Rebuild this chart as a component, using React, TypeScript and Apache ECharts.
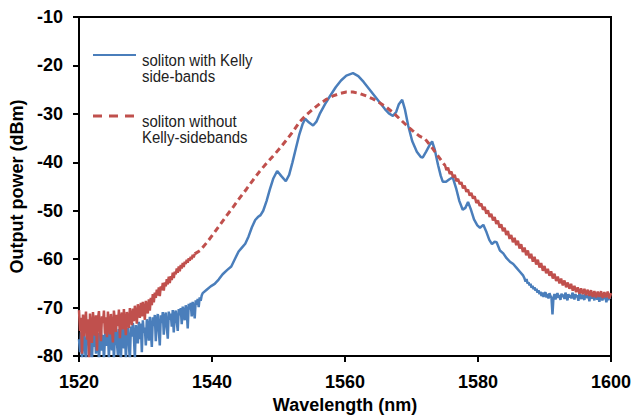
import React, { useEffect, useRef } from "react";
import * as echarts from "echarts";

// ---------- data ----------
const xTicks = { min: 1520, max: 1600, interval: 20 };
const yTicks = { min: -80, max: -10, interval: 10 };

const NOISE_STEP = 0.15;

// blue: soliton with Kelly side-bands
const blueLeftStart = 1520;
const blueLeftNoise = [
  -76.5, -79.2, -75.1, -81, -77.3, -74.8, -78.6, -81, -75.9, -77.8, -74.6, -80.2, -76.4, -81, -75.3, -78.1, -74.9, -79.5, -76.8, -75.2, -81, -77.1, -74.7, -78.9, -75.6, -81, -76.2,
  -74.3, -77.9, -75.0, -80.6, -73.8, -76.7, -78.8, -74.1, -81, -75.5, -73.9, -77.2, -79.8, -74.4, -76.3, -81, -74.0, -75.8, -78.4, -73.6, -80.9, -75.1, -74.2, -77.6, -81, -73.9, -76.0,
  -73.2, -75.9, -80.5, -73.6, -74.8, -77.4, -72.9, -76.5, -73.3, -79.2, -72.6, -75.2, -74.1, -77.8, -72.4, -73.9, -76.8, -71.9, -74.6, -78.1,
  -72.0, -73.8, -71.5, -76.9, -72.8, -71.3, -74.7, -77.8, -71.6, -73.2, -70.9, -75.6, -72.1, -71.0, -74.0, -76.4, -70.8, -72.5, -71.2, -73.9, -70.5, -75.1, -71.4, -70.6, -72.9, -74.8, -70.3,
  -71.6, -70.1, -73.4, -69.8, -71.0, -72.6, -69.5, -70.7, -74.3, -69.2, -70.4, -69.0, -71.8, -68.8, -70.0, -72.2, -68.5, -69.4, -68.2, -69.9, -67.9, -68.6, -67.5,
];
const blueSmooth: [number, number][] = [
  [1538.6, -67.0], [1539.2, -66.3], [1539.8, -65.6], [1540.4, -65.1], [1541.0, -64.2], [1541.6, -63.1],
  [1542.3, -62.2], [1542.9, -61.5], [1543.5, -59.8], [1544.0, -58.4], [1544.5, -57.6], [1545.0, -56.8],
  [1545.5, -55.3], [1546.0, -53.4], [1546.5, -51.9], [1546.9, -51.3], [1547.3, -50.9], [1547.7, -50.0],
  [1548.2, -48.0], [1548.7, -45.6], [1549.2, -43.4], [1549.8, -41.8], [1550.4, -42.8], [1551.1, -43.9],
  [1551.6, -42.6], [1552.1, -40.0], [1552.6, -37.2], [1553.1, -34.4], [1553.6, -32.2], [1554.0, -31.0],
  [1554.6, -31.8], [1555.2, -32.4], [1555.7, -31.6], [1556.2, -30.0], [1557.0, -28.0], [1557.8, -26.2],
  [1558.6, -24.5], [1559.4, -23.1], [1560.2, -22.1], [1561.2, -21.6], [1562.0, -22.2], [1562.8, -23.4],
  [1563.6, -24.8], [1564.4, -26.2], [1565.2, -27.6], [1566.0, -29.0], [1566.6, -29.9], [1567.2, -30.4],
  [1567.7, -29.6], [1568.1, -28.0], [1568.6, -27.1], [1569.0, -29.0], [1569.5, -32.4], [1570.1, -35.6],
  [1570.8, -37.8], [1571.4, -38.9], [1571.7, -39.0], [1572.2, -37.8], [1572.7, -36.5], [1573.1, -35.7],
  [1573.5, -37.4], [1574.0, -40.6], [1574.4, -42.8], [1574.7, -44.0], [1575.2, -44.0], [1575.7, -43.5],
  [1576.2, -43.1], [1576.7, -45.3], [1577.2, -48.0], [1577.7, -49.8], [1578.1, -49.4], [1578.5, -48.2],
  [1578.9, -49.6], [1579.4, -51.8], [1579.9, -53.0], [1580.3, -53.5], [1580.8, -52.9], [1581.3, -54.5],
  [1581.7, -56.0], [1582.1, -56.9], [1582.5, -56.4], [1582.8, -56.5], [1583.3, -58.2], [1583.8, -58.8],
  [1584.3, -59.8], [1584.8, -60.5], [1585.3, -61.0], [1585.8, -61.8], [1586.3, -62.6], [1586.8, -63.4],
];
const blueRightStart = 1587.0;
const blueRightNoise = [
  -64.0, -64.6, -64.1, -65.0, -64.8, -65.4, -65.1, -65.9, -65.5, -66.2, -65.8, -66.5, -66.1, -66.9,
  -66.4, -67.2, -66.7, -67.6, -66.9, -67.8, -67.1, -66.8, -67.9, -67.2, -68.1, -67.0, -67.6, -68.0, -71.4,
  -67.9, -67.2, -68.3, -67.5, -67.0, -68.0, -67.4, -68.4, -67.1, -67.8, -67.3, -68.2, -66.9, -67.7, -68.5,
  -67.2, -67.9, -67.4, -68.1, -66.9, -67.6, -68.3, -67.2, -67.8, -67.5, -68.6, -67.0, -67.7, -68.2, -67.3,
  -67.9, -68.4, -67.1, -67.6, -68.0, -67.4, -68.7, -67.2, -67.8, -68.1, -67.5, -68.5, -67.3, -67.9, -68.3,
  -67.6, -68.8, -67.4, -68.0, -68.5, -67.7, -68.2, -67.6, -68.9, -67.8, -68.4, -67.9, -68.2,
];

// red: soliton without Kelly-sidebands
const redLeftStart = 1520;
const redLeftNoise = [
  -70.5, -74.8, -72.1, -79.5, -71.4, -75.9, -73.0, -70.8, -76.6, -72.4, -80.5, -71.2, -74.1, -77.3, -70.9, -73.5, -75.8, -71.6, -78.9, -72.3, -70.7, -74.6, -76.9, -71.8, -73.2, -70.6, -75.4,
  -72.0, -76.1, -70.8, -73.7, -75.5, -71.3, -74.0, -77.2, -70.6, -72.9, -75.0, -71.5, -73.8, -70.4, -76.3, -72.2, -71.0, -74.5, -70.3, -73.1, -75.7, -70.9, -72.6, -74.2, -70.1, -71.9, -73.6,
  -70.2, -72.8, -69.6, -71.4, -73.3, -69.3, -70.7, -72.1, -69.0, -71.8, -68.8, -70.3, -72.5, -68.6, -69.9, -71.2, -68.3, -70.6, -68.0, -69.5,
  -67.2, -68.9, -66.9, -68.0, -66.3, -67.5, -65.8, -67.6, -65.6, -66.4, -64.9, -66.5, -64.8, -65.6, -64.1, -65.2, -63.6, -64.9, -63.5, -64.3, -62.8, -63.9, -62.6, -63.1, -61.9, -62.8,
  -61.5, -62.5, -61.2, -61.9, -60.8, -61.6, -60.5, -61.0, -60.1, -60.7, -59.8, -60.3, -59.5, -60.0, -59.1, -59.6, -58.9,
];
const redSmooth: [number, number][] = [
  [1537.4, -58.9], [1538.2, -58.2], [1539.2, -56.6], [1540.2, -54.8], [1541.2, -52.9], [1542.2, -51.0], [1543.2, -49.2],
  [1544.2, -47.3], [1545.2, -45.5], [1546.2, -43.6], [1547.2, -41.8], [1548.2, -40.2], [1549.2, -38.7],
  [1550.2, -37.1], [1551.2, -35.4], [1552.2, -33.6], [1553.2, -31.6], [1554.2, -30.2], [1555.2, -29.0],
  [1556.2, -27.9], [1557.2, -27.0], [1558.2, -26.3], [1559.2, -25.8], [1560.2, -25.5], [1561.2, -25.5],
  [1562.2, -25.8], [1563.2, -26.3], [1564.2, -26.9], [1565.2, -27.7], [1566.2, -28.6], [1567.2, -29.7],
  [1568.2, -31.0], [1569.2, -32.3], [1570.2, -33.5], [1571.2, -34.6], [1572.0, -35.1], [1573.0, -36.8],
  [1574.0, -38.7], [1575.0, -40.6],
];
const redRightStart = 1575.0;
const RED_RIGHT_STEP = 0.25;
const redRightNoise = [
  -40.4, -41.6, -41.1, -42.4,
  -41.9, -43.1, -42.6, -43.9, -43.4, -44.5, -44.1, -45.4, -44.8, -46.1, -45.6, -46.9, -46.3, -47.5, -47.0, -48.4,
  -47.8, -49.0, -48.5, -49.8, -49.2, -50.6, -49.9, -51.3, -50.6, -52.0, -51.3, -52.7, -52.0, -53.5, -52.8, -54.2,
  -53.5, -55.0, -54.2, -55.8, -55.0, -56.5, -55.6, -57.1, -56.2, -57.8, -56.9, -58.5, -57.6, -59.2, -58.2, -59.8,
  -58.9, -60.5, -59.5, -61.1, -60.1, -61.7, -60.8, -62.4, -61.4, -62.9, -62.0, -63.4, -62.5, -64.0, -63.0, -64.5,
  -63.6, -65.0, -64.0, -65.4, -64.4, -65.8, -64.8, -66.1, -65.1, -66.5, -65.5, -66.8, -65.8, -67.1, -66.0, -67.2,
  -66.1, -67.4, -66.3, -67.6, -66.4, -67.8, -66.6, -67.9, -66.7, -67.8, -66.6, -68.0, -66.8, -67.9, -66.7, -68.1, -67.0,
];

const legendEntries = [
  { lines: ["soliton with Kelly", "side-bands"], color: "#4a7ebb", dashed: false },
  { lines: ["soliton without", "Kelly-sidebands"], color: "#c0504d", dashed: true },
];

const xName = "Wavelength (nm)";
const yName = "Output power (dBm)";

function fromNoise(start: number, step: number, vals: number[]): [number, number][] {
  return vals.map((v, i) => [+(start + i * step).toFixed(3), v]);
}

export default function App() {
  const ref = useRef<HTMLDivElement>(null);
  useEffect(() => {
    if (!ref.current) return;
    const chart = echarts.init(ref.current, undefined, { renderer: "svg" });
    const blueData = [
      ...fromNoise(blueLeftStart, NOISE_STEP, blueLeftNoise),
      ...blueSmooth,
      ...fromNoise(blueRightStart, NOISE_STEP, blueRightNoise),
    ];
    const redLeftData = fromNoise(redLeftStart, NOISE_STEP, redLeftNoise);
    const redRightData = fromNoise(redRightStart, RED_RIGHT_STEP, redRightNoise);
    const font = "Liberation Sans";
    const blue = legendEntries[0].color;
    const red = legendEntries[1].color;
    const graphics: any[] = [];
    legendEntries.forEach((e, k) => {
      const ly = 55 + k * 61;
      graphics.push({
        type: "line",
        shape: { x1: 93, y1: ly, x2: 136, y2: ly },
        style: { stroke: e.color, lineWidth: e.dashed ? 3 : 2, lineDash: e.dashed ? [9, 7] : null },
      });
      e.lines.forEach((t, j) => {
        graphics.push({
          type: "text",
          x: 142,
          y: ly + 5 + j * 16,
          scaleX: 0.88,
          style: {
            text: t,
            fill: "#222",
            font: `17px "${font}"`,
            verticalAlign: "middle",
            align: "left",
          },
        });
      });
    });
    const labelStyle = { fontFamily: font, fontWeight: "bold", fontSize: 18, color: "#000" };
    const commonLine = { showSymbol: false, symbol: "none", clip: true, type: "line" };
    chart.setOption({
      animation: false,
      backgroundColor: "#fff",
      grid: {
        left: 79,
        top: 17,
        right: 33,
        bottom: 59,
        show: true,
        borderColor: "#000",
        borderWidth: 2,
        backgroundColor: "transparent",
      },
      xAxis: {
        type: "value",
        min: xTicks.min,
        max: xTicks.max,
        interval: xTicks.interval,
        name: xName,
        nameLocation: "middle",
        nameGap: 35,
        nameTextStyle: labelStyle,
        axisLine: { lineStyle: { color: "#000", width: 2 } },
        axisTick: { length: 6, lineStyle: { color: "#000", width: 2 } },
        axisLabel: { ...labelStyle, margin: 17, formatter: (v: number) => String(v) },
        splitLine: { show: false },
      },
      yAxis: {
        type: "value",
        min: yTicks.min,
        max: yTicks.max,
        interval: yTicks.interval,
        name: yName,
        nameLocation: "middle",
        nameGap: 44,
        nameTextStyle: labelStyle,
        axisLine: { lineStyle: { color: "#000", width: 2 } },
        axisTick: { length: 6, lineStyle: { color: "#000", width: 2 } },
        axisLabel: { ...labelStyle, margin: 16, formatter: (v: number) => String(v) },
        splitLine: { show: false },
      },
      series: [
        {
          ...commonLine,
          name: legendEntries[0].lines.join(" "),
          data: blueData,
          lineStyle: { color: blue, width: 2.5 },
        },
        {
          ...commonLine,
          name: legendEntries[1].lines.join(" "),
          data: redLeftData,
          lineStyle: { color: red, width: 2.5 },
        },
        {
          ...commonLine,
          name: legendEntries[1].lines.join(" ") + " (mid)",
          data: redSmooth,
          lineStyle: { color: red, width: 3, type: [6, 4] },
        },
        {
          ...commonLine,
          name: legendEntries[1].lines.join(" ") + " (tail)",
          data: redRightData,
          lineStyle: { color: red, width: 2.5 },
        },
      ],
      graphic: graphics,
    });
    return () => chart.dispose();
  }, []);
  return (
    <div
      ref={ref}
      style={{ position: "fixed", left: 0, top: 0, width: 644, height: 419, background: "#fff" }}
    />
  );
}
